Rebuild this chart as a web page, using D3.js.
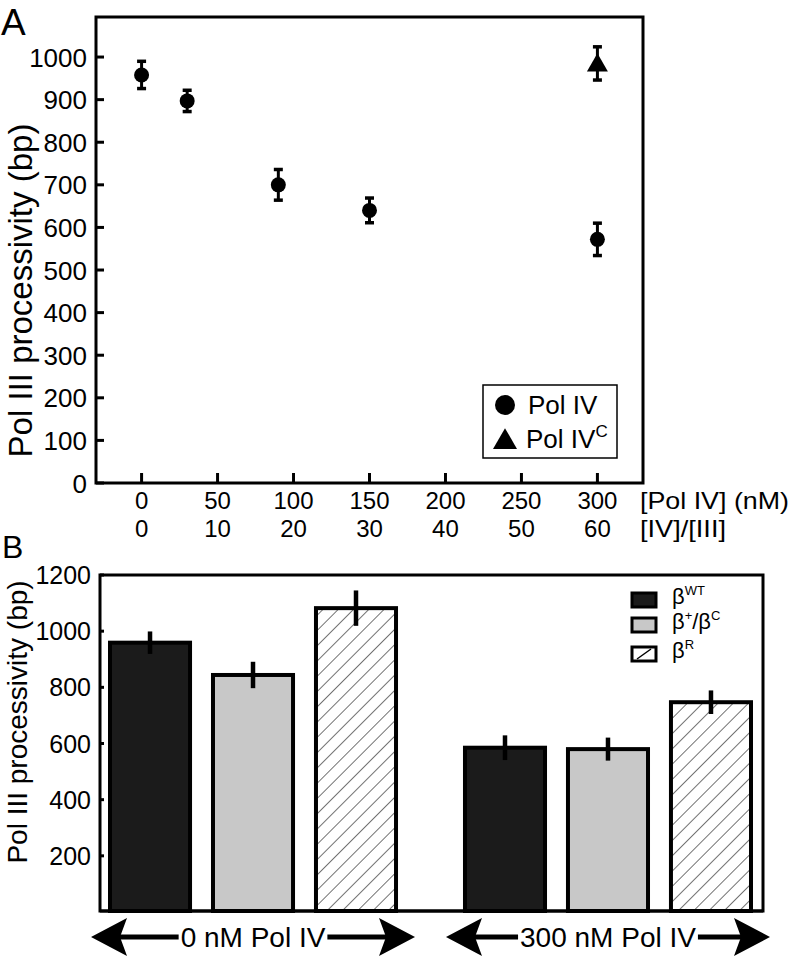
<!DOCTYPE html>
<html>
<head>
<meta charset="utf-8">
<script src="https://cdn.jsdelivr.net/npm/d3@7"></script>
<style>
  html, body { margin: 0; padding: 0; background: #fff; }
  svg { display: block; }
  text { font-family: "Liberation Sans", Arial, Helvetica, sans-serif; fill: #000; }
</style>
</head>
<body>
<svg id="chart" width="793" height="956"></svg>
<script>
// ---------------- Panel A data ----------------
const polIVConc   = [0, 30, 90, 150, 300];       // [Pol IV] (nM)
const polIVProc   = [958, 897, 700, 640, 572];   // bp
const polIVErr    = [32, 25, 36, 29, 38];
const polIVCConc  = [300];
const polIVCProc  = [985];
const polIVCErr   = [39];
const xTicksA     = [0, 50, 100, 150, 200, 250, 300];
const ratioLabels = ["0", "10", "20", "30", "40", "50", "60"];
const yTicksA     = [0, 100, 200, 300, 400, 500, 600, 700, 800, 900, 1000];
const legendA     = ["Pol IV", "Pol IV"];

// ---------------- Panel B data ----------------
const groupsB  = ["0 nM Pol IV", "300 nM Pol IV"];
const seriesB  = ["WT", "+/C", "R"];
const betaWT   = [959, 585];
const betaPC   = [844, 580];
const betaR    = [1082, 747];
const errWT    = [40, 44];
const errPC    = [47, 41];
const errR     = [63, 42];
const yTicksB  = [200, 400, 600, 800, 1000, 1200];

const svg = d3.select("#chart");

// ================= PANEL A =================
const A = { left: 96, right: 643, top: 17, bottom: 483 };
const xA = d3.scaleLinear().domain([-30, 330]).range([A.left, A.right]);
const yA = d3.scaleLinear().domain([0, 1094]).range([A.bottom, A.top]);

const gA = svg.append("g");

gA.append("rect")
  .attr("x", A.left).attr("y", A.top)
  .attr("width", A.right - A.left).attr("height", A.bottom - A.top)
  .attr("fill", "none").attr("stroke", "#000").attr("stroke-width", 3);

gA.selectAll(".ytA").data(yTicksA).join("line")
  .attr("x1", A.left).attr("x2", A.left + 8)
  .attr("y1", d => yA(d)).attr("y2", d => yA(d))
  .attr("stroke", "#000").attr("stroke-width", 3);
gA.selectAll(".ylA").data(yTicksA).join("text")
  .attr("x", 87).attr("y", d => yA(d) + 9.5)
  .attr("text-anchor", "end").attr("font-size", 26)
  .text(d => d);

gA.selectAll(".xtA").data(xTicksA).join("line")
  .attr("x1", d => xA(d)).attr("x2", d => xA(d))
  .attr("y1", A.bottom).attr("y2", A.bottom - 10)
  .attr("stroke", "#000").attr("stroke-width", 3);
gA.selectAll(".xlA").data(xTicksA).join("text")
  .attr("x", d => xA(d)).attr("y", 509)
  .attr("text-anchor", "middle").attr("font-size", 24)
  .text(d => d);
gA.selectAll(".xl2A").data(xTicksA).join("text")
  .attr("x", d => xA(d)).attr("y", 536.5)
  .attr("text-anchor", "middle").attr("font-size", 24)
  .text((d, i) => ratioLabels[i]);
gA.append("text").attr("x", 640).attr("y", 509).attr("font-size", 24)
  .attr("textLength", 149).attr("lengthAdjust", "spacingAndGlyphs").text("[Pol IV] (nM)");
gA.append("text").attr("x", 640).attr("y", 536.5).attr("font-size", 24)
  .attr("textLength", 86).attr("lengthAdjust", "spacingAndGlyphs").text("[IV]/[III]");

gA.append("text")
  .attr("transform", `translate(32,${(118 + 463) / 2}) rotate(-90)`)
  .attr("text-anchor", "middle").attr("font-size", 33)
  .text("Pol III processivity (bp)");

svg.append("text").attr("x", 1).attr("y", 35).attr("font-size", 37).text("A");

function errBarA(g, xs, ys, es) {
  const d = xs.map((x, i) => ({ x, y: ys[i], e: es[i] }));
  g.selectAll(null).data(d).join("line")
    .attr("x1", p => xA(p.x)).attr("x2", p => xA(p.x))
    .attr("y1", p => yA(p.y - p.e)).attr("y2", p => yA(p.y + p.e))
    .attr("stroke", "#000").attr("stroke-width", 3);
  ["lo", "hi"].forEach(k => {
    g.selectAll(null).data(d).join("line")
      .attr("x1", p => xA(p.x) - 4.5).attr("x2", p => xA(p.x) + 4.5)
      .attr("y1", p => yA(k === "lo" ? p.y - p.e : p.y + p.e))
      .attr("y2", p => yA(k === "lo" ? p.y - p.e : p.y + p.e))
      .attr("stroke", "#000").attr("stroke-width", 3.5);
  });
}
errBarA(gA, polIVConc, polIVProc, polIVErr);
errBarA(gA, polIVCConc, polIVCProc, polIVCErr);

gA.selectAll(".ptA").data(polIVConc).join("circle")
  .attr("cx", d => xA(d)).attr("cy", (d, i) => yA(polIVProc[i]))
  .attr("r", 7.5).attr("fill", "#000");
gA.selectAll(".triA").data(polIVCConc).join("path")
  .attr("d", d3.symbol().type(d3.symbolTriangle).size(190))
  .attr("transform", (d, i) => `translate(${xA(d)},${yA(polIVCProc[i]) + 2})`)
  .attr("fill", "#000");

const lgA = gA.append("g");
lgA.append("rect").attr("x", 483).attr("y", 385).attr("width", 134).attr("height", 73)
  .attr("fill", "#fff").attr("stroke", "#000").attr("stroke-width", 1.5);
lgA.append("circle").attr("cx", 505).attr("cy", 405).attr("r", 10).attr("fill", "#000");
lgA.append("path").attr("d", d3.symbol().type(d3.symbolTriangle).size(250))
  .attr("transform", "translate(505,442)").attr("fill", "#000");
lgA.append("text").attr("x", 528).attr("y", 414).attr("font-size", 26).text(legendA[0]);
const tC = lgA.append("text").attr("x", 526).attr("y", 448).attr("font-size", 26);
tC.append("tspan").text(legendA[1]);
tC.append("tspan").attr("font-size", 17).attr("dy", -11).text("C");

// ================= PANEL B =================
const B = { left: 100, right: 763, top: 575, bottom: 911 };
const yB = d3.scaleLinear().domain([0, 1200]).range([912, 575]);
const xG = d3.scaleBand().domain(groupsB).range([108, 753]).paddingInner(0.183);
const xS = d3.scaleBand().domain(seriesB).range([0, xG.bandwidth()]).paddingInner(0.184);

const defs = svg.append("defs");
const pat = defs.append("pattern").attr("id", "hatch")
  .attr("patternUnits", "userSpaceOnUse").attr("width", 10.8).attr("height", 10.8)
  .attr("patternTransform", "rotate(45)");
pat.append("rect").attr("width", 10.8).attr("height", 10.8).attr("fill", "#fff");
pat.append("line").attr("x1", 0).attr("y1", 0).attr("x2", 0).attr("y2", 10.8)
  .attr("stroke", "#000").attr("stroke-width", 1.1);

const gB = svg.append("g");
gB.append("rect")
  .attr("x", B.left).attr("y", B.top)
  .attr("width", B.right - B.left).attr("height", B.bottom - B.top)
  .attr("fill", "none").attr("stroke", "#000").attr("stroke-width", 3);

gB.selectAll(".ytB").data(yTicksB).join("line")
  .attr("x1", B.left).attr("x2", B.left + 4)
  .attr("y1", d => yB(d)).attr("y2", d => yB(d))
  .attr("stroke", "#000").attr("stroke-width", 3);
gB.selectAll(".ylB").data(yTicksB).join("text")
  .attr("x", 91).attr("y", d => yB(d) + 9)
  .attr("text-anchor", "end").attr("font-size", 25)
  .text(d => d);

gB.append("text")
  .attr("transform", `translate(27,722) rotate(-90)`)
  .attr("text-anchor", "middle").attr("font-size", 28)
  .text("Pol III processivity (bp)");

svg.append("text").attr("x", 2).attr("y", 558).attr("font-size", 32).text("B");

const fills = { "WT": "#1b1b1b", "+/C": "#c8c8c8", "R": "url(#hatch)" };
const vals = { "WT": betaWT, "+/C": betaPC, "R": betaR };
const errs = { "WT": errWT, "+/C": errPC, "R": errR };
const barData = [];
groupsB.forEach((g, gi) => seriesB.forEach(s => barData.push({ g, s, v: vals[s][gi], e: errs[s][gi] })));

gB.selectAll(".bar").data(barData).join("rect")
  .attr("x", d => xG(d.g) + xS(d.s) + 2)
  .attr("width", xS.bandwidth() - 4)
  .attr("y", d => yB(d.v))
  .attr("height", d => B.bottom - yB(d.v))
  .attr("fill", d => fills[d.s])
  .attr("stroke", "#000").attr("stroke-width", 4);

gB.selectAll(".err").data(barData).join("line")
  .attr("x1", d => xG(d.g) + xS(d.s) + xS.bandwidth() / 2)
  .attr("x2", d => xG(d.g) + xS(d.s) + xS.bandwidth() / 2)
  .attr("y1", d => yB(d.v - d.e)).attr("y2", d => yB(d.v + d.e))
  .attr("stroke", "#000").attr("stroke-width", 4.5);

gB.append("line").attr("x1", B.left).attr("x2", B.right).attr("y1", B.bottom).attr("y2", B.bottom)
  .attr("stroke", "#000").attr("stroke-width", 3);

// legend B
const lgB = gB.append("g");
const lgRows = [
  { s: "WT", y: 593, parts: [["β", 0], ["WT", 1]] },
  { s: "+/C", y: 618, parts: [["β", 0], ["+", 1], ["/β", 0], ["C", 1]] },
  { s: "R", y: 647, parts: [["β", 0], ["R", 1]] }
];
lgRows.forEach(r => {
  lgB.append("rect").attr("x", 632).attr("y", r.y).attr("width", 24).attr("height", 14)
    .attr("fill", r.s === "R" ? "#fff" : fills[r.s]).attr("stroke", "#000").attr("stroke-width", 3);
  if (r.s === "R") {
    lgB.append("line").attr("x1", 637).attr("y1", r.y + 12).attr("x2", 651).attr("y2", r.y + 2)
      .attr("stroke", "#000").attr("stroke-width", 1.5);
  }
  const t = lgB.append("text").attr("x", 672).attr("y", r.y + 11).attr("font-size", 22);
  let up = false;
  r.parts.forEach(([txt, sup]) => {
    const ts = t.append("tspan").text(txt);
    if (sup) { ts.attr("font-size", 13).attr("dy", up ? 0 : -9); up = true; }
    else { ts.attr("font-size", 22).attr("dy", up ? 9 : 0); up = false; }
  });
});

// group arrows
const arrowY = 937;
groupsB.forEach(g => {
  const cx = xG(g) + xG.bandwidth() / 2;
  const x0 = cx - 162, x1 = cx + 162;
  const t = svg.append("text").attr("x", cx).attr("y", 947)
    .attr("text-anchor", "middle").attr("font-size", 28).text(g);
  const w = t.node().getComputedTextLength();
  const tl = cx - w / 2 - 2, tr = cx + w / 2 + 2;
  svg.append("line").attr("x1", x0 + 28).attr("x2", tl).attr("y1", arrowY).attr("y2", arrowY)
    .attr("stroke", "#000").attr("stroke-width", 5);
  svg.append("line").attr("x1", tr).attr("x2", x1 - 28).attr("y1", arrowY).attr("y2", arrowY)
    .attr("stroke", "#000").attr("stroke-width", 5);
  svg.append("path")
    .attr("d", `M${x0},${arrowY} L${x0 + 36},${arrowY - 19} L${x0 + 29},${arrowY} L${x0 + 36},${arrowY + 19} Z`)
    .attr("fill", "#000");
  svg.append("path")
    .attr("d", `M${x1},${arrowY} L${x1 - 36},${arrowY - 19} L${x1 - 29},${arrowY} L${x1 - 36},${arrowY + 19} Z`)
    .attr("fill", "#000");
});
</script>
</body>
</html>
